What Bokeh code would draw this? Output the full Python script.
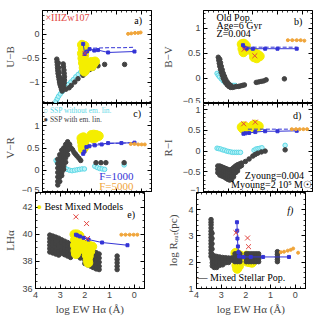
from bokeh.plotting import figure
from bokeh.models import Range1d, LinearAxis, Label, FixedTicker
from bokeh.layouts import column, row
from bokeh.embed import file_html
from bokeh.resources import INLINE

# ---------------- data (log EW Halpha on x) ----------------
X_MAJOR = [0, 1, 2, 3, 4]

# panel a : U-B
A_GRAY_X = [3.42,3.41,3.40,3.39,3.38,3.37,3.35,3.33,3.31,3.29,3.26,3.23,3.20,
            3.36,3.34,3.32,3.30,3.27,
            3.16,3.15,3.13,3.12,3.11,3.11,3.12,3.14,3.17,
            3.22,3.24,
            3.05,2.92,2.83,2.69,2.56,2.36,2.22,2.09,1.95,1.75,1.48,0.67]
A_GRAY_Y = [-0.52,-0.58,-0.64,-0.70,-0.76,-0.82,-0.88,-0.94,-1.00,-1.05,-1.10,-1.15,-1.19,
            -0.60,-0.70,-0.80,-0.90,-0.98,
            -0.62,-0.68,-0.75,-0.82,-0.89,-0.96,-1.02,-1.08,-1.13,
            -0.95,-1.02,
            -1.15,-1.12,-1.07,-1.00,-0.93,-0.86,-0.79,-0.74,-0.71,-0.66,-0.63,-0.63]
A_CYAN_X = [3.45,3.40,3.35,3.28,3.20,3.12,3.03,2.95,2.85,2.75,2.65,2.55,2.45,2.35,2.25,2.15,2.05,1.95,1.87]
A_CYAN_Y = [-1.40,-1.35,-1.30,-1.25,-1.20,-1.15,-1.10,-1.05,-1.00,-0.95,-0.89,-0.84,-0.79,-0.74,-0.69,-0.65,-0.62,-0.59,-0.57]
A_YEL_X = [2.40,2.30,2.37,2.28,2.40,2.31,2.38,2.30,2.36,2.28,2.33,2.26,2.30,2.02,1.94,1.87,2.00]
A_YEL_Y = [-0.22,-0.24,-0.30,-0.34,-0.40,-0.44,-0.50,-0.54,-0.60,-0.64,-0.70,-0.74,-0.78,-0.58,-0.62,-0.57,-0.67]
A_BLUE_X = [2.35,2.29,2.20,2.09,1.90,1.75,1.34,0.27]
A_BLUE_Y = [-0.20,-0.41,-0.36,-0.31,-0.34,-0.33,-0.38,-0.36]
A_BLUED_X = [1.95,1.30,0.70,0.27]
A_BLUED_Y = [-0.29,-0.28,-0.28,-0.27]
A_ORA_X = [0.53,0.40,0.25,0.12,0.02]
A_ORA_Y = [0.01,0.02,0.03,0.03,0.04]
A_RED_X = [2.28]
A_RED_Y = [-0.40]

# panel b : B-V
B_GRAY_X = [3.40,3.38,3.36,3.34,3.31,3.28,3.24,3.20,3.15,3.10,3.04,2.97,2.90,2.82,2.74,2.66,2.58,2.50,2.42,2.34,
            3.34,3.31,3.28,3.24,3.20,3.15,3.10,3.04,2.98,2.90,
            1.86,1.76,1.66,1.56,1.46,0.72]
B_GRAY_Y = [0.42,0.36,0.30,0.24,0.18,0.12,0.06,0.00,-0.05,-0.09,-0.13,-0.16,-0.18,-0.18,-0.17,-0.16,-0.16,-0.15,-0.14,-0.13,
            0.38,0.31,0.24,0.17,0.10,0.04,-0.02,-0.07,-0.11,-0.14,
            -0.08,-0.07,-0.06,-0.05,-0.03,-0.01]
B_CYAN_X = [3.45,3.40,3.35,3.28,3.20,3.12,3.04,2.96,2.88,2.80,2.72]
B_CYAN_Y = [0.10,0.06,0.03,-0.01,-0.05,-0.08,-0.11,-0.13,-0.14,-0.14,-0.14]
B_YEL_X = [2.45,2.36,2.28,2.42,2.32,2.38,2.00,1.90,1.80,1.95,1.84,1.72]
B_YEL_Y = [0.68,0.69,0.65,0.59,0.57,0.52,0.52,0.50,0.47,0.42,0.40,0.44]
B_BLUE_X = [2.40,2.33,2.25,2.00,1.50,1.00,0.22]
B_BLUE_Y = [0.66,0.61,0.59,0.59,0.59,0.59,0.59]
B_BLUED_X = [2.25,1.60,0.90,0.22]
B_BLUED_Y = [0.62,0.62,0.62,0.62]
B_RED_X = [2.35,1.92]
B_RED_Y = [0.58,0.45]
B_ORA_X = [0.58,0.40,0.22,0.06,-0.09]
B_ORA_Y = [0.76,0.76,0.76,0.76,0.75]

# panel c : V-R
C_GRAY_X = [3.38,3.38,3.38,3.38,3.38,3.38,3.38,
            3.30,3.30,3.30,3.30,3.30,3.30,3.30,
            3.22,3.22,3.22,3.22,3.22,3.22,3.22,
            3.14,3.14,3.14,3.14,3.14,3.14,
            3.06,3.06,3.06,3.06,3.06,
            2.98,2.98,2.98,2.98,
            2.90,2.84,2.78,2.72,2.66,2.60,2.52,2.45,
            1.83,1.63,1.43,0.69]
C_GRAY_Y = [0.25,0.15,0.05,-0.05,-0.15,-0.25,-0.33,
            0.35,0.25,0.15,0.05,-0.05,-0.15,-0.25,
            0.45,0.35,0.25,0.15,0.05,-0.05,-0.12,
            0.50,0.40,0.30,0.20,0.10,0.02,
            0.58,0.48,0.38,0.28,0.18,
            0.64,0.55,0.45,0.35,
            0.58,0.50,0.46,0.40,0.36,0.32,0.27,0.22,
            0.17,0.17,0.17,0.17]
C_CYAN_X = [3.45,3.40,3.30,3.20,3.10,3.00,2.90,2.80,2.70,2.60,2.50,2.40,2.30,1.88,1.78,1.68,1.58,1.48,0.69]
C_CYAN_Y = [0.22,0.17,0.12,0.08,0.05,0.02,0.00,-0.01,0.00,0.01,0.02,0.03,0.03,0.09,0.06,0.04,0.03,0.02,0.12]
C_YEL_X = [2.42,2.34,2.26,2.40,2.30,2.38,2.30,2.36,2.02,1.92,1.82,1.72,1.96,1.86]
C_YEL_Y = [0.72,0.74,0.70,0.64,0.62,0.55,0.52,0.47,0.79,0.80,0.79,0.77,0.72,0.73]
C_BLUE_X = [2.35,2.30,2.22,2.10,1.88,1.60,1.34,0.80,0.27]
C_BLUE_Y = [0.37,0.42,0.52,0.54,0.56,0.58,0.61,0.61,0.62]
C_BLUED_X = [2.00,1.40,0.80,0.27]
C_BLUED_Y = [0.59,0.60,0.61,0.62]
C_ORA_X = [0.42,0.27,0.12,-0.02,-0.15]
C_ORA_Y = [0.59,0.59,0.58,0.58,0.58]

# panel d : R-I
D_GRAY_X = [3.42,3.42,3.42,
            3.34,3.34,3.34,3.34,
            3.26,3.26,3.26,3.26,
            3.18,3.18,3.18,3.18,
            3.10,3.10,3.10,3.10,
            3.02,3.02,3.02,3.02,
            2.94,2.94,2.94,2.94,
            2.86,2.86,2.86,2.86,
            2.78,2.78,2.78,2.78,
            2.70,2.70,2.70,
            2.62,2.62,2.62,
            2.54,2.54,
            2.46,2.46,
            2.30,2.15,2.00,1.90,1.80,1.65,1.50,0.69]
D_GRAY_Y = [-0.36,-0.44,-0.52,
            -0.36,-0.44,-0.52,-0.58,
            -0.38,-0.46,-0.54,-0.60,
            -0.40,-0.48,-0.56,-0.62,
            -0.42,-0.50,-0.58,-0.65,
            -0.44,-0.52,-0.60,-0.68,
            -0.46,-0.54,-0.62,-0.70,
            -0.44,-0.52,-0.60,-0.68,
            -0.40,-0.48,-0.56,-0.62,
            -0.36,-0.44,-0.52,
            -0.33,-0.41,-0.48,
            -0.31,-0.38,
            -0.29,-0.35,
            -0.25,-0.19,-0.12,-0.08,-0.05,-0.02,0.00,0.03]
D_CYAN_X = [3.45,3.38,3.30,3.22,3.14,3.06,2.98,2.90,2.82,2.74,2.66,2.58,2.50,1.95,1.87,1.79,1.71,1.63,0.69]
D_CYAN_Y = [0.07,0.06,0.05,0.03,0.02,0.00,-0.01,-0.02,-0.03,-0.03,-0.03,-0.03,-0.03,0.02,0.05,0.06,0.07,0.08,0.14]
D_YEL_X = [2.45,2.37,2.28,2.40,2.30,2.00,1.92,1.84,1.76,1.95,1.85]
D_YEL_Y = [0.58,0.60,0.58,0.54,0.53,0.62,0.64,0.62,0.60,0.57,0.57]
D_RED_X = [2.37,1.90]
D_RED_Y = [0.66,0.70]
D_BLUE_X = [2.38,2.30,2.15,1.90,1.50,1.00,0.22]
D_BLUE_Y = [0.42,0.43,0.44,0.46,0.48,0.48,0.49]
D_BLUED_X = [2.20,1.50,0.80,0.22]
D_BLUED_Y = [0.53,0.53,0.53,0.53]
D_ORA_X = [0.42,0.25,0.10,-0.05,-0.20]
D_ORA_Y = [0.53,0.53,0.53,0.53,0.53]

# panel e : L_Halpha
E_GRAY_X = [3.42,3.42,3.42,3.42,3.42,3.42,
            3.30,3.30,3.30,3.30,3.30,3.30,
            3.18,3.18,3.18,3.18,3.18,3.18,
            3.06,3.06,3.06,3.06,3.06,3.06,
            2.94,2.94,2.94,2.94,2.94,
            2.82,2.82,2.82,2.82,2.82,
            2.70,2.70,2.70,2.70,2.70,
            2.58,2.58,2.58,2.58,2.58,
            2.30,2.30,2.30,
            2.18,2.18,2.18,2.18,
            2.00,2.00,2.00,2.00,2.00,2.00,
            1.88,1.88,1.88,1.88,1.88,1.88,
            1.76,1.76,1.76,1.76,1.76,1.76,
            1.66,1.66,1.66,1.66,1.66,
            1.54,1.54,1.54,1.54,1.54,
            1.42,1.42,1.42,1.42,1.42,
            0.69,0.69,0.69,0.69,0.69]
E_GRAY_Y = [39.95,39.70,39.45,39.20,38.95,38.70,
            39.88,39.63,39.38,39.13,38.88,38.63,
            39.80,39.55,39.30,39.05,38.80,38.55,
            39.72,39.47,39.22,38.97,38.72,38.47,
            39.60,39.35,39.10,38.85,38.60,
            39.50,39.25,39.00,38.75,38.50,
            39.40,39.15,38.90,38.65,38.40,
            39.30,39.05,38.80,38.55,38.30,
            38.90,38.65,38.40,
            39.00,38.75,38.50,38.25,
            39.10,38.85,38.60,38.35,38.10,37.85,
            39.00,38.75,38.50,38.25,38.00,37.75,
            38.90,38.65,38.40,38.15,37.90,37.65,
            38.75,38.45,38.15,37.85,37.55,
            38.65,38.35,38.05,37.75,37.45,
            38.55,38.25,37.95,37.65,37.40,
            38.40,38.15,37.90,37.65,37.40]
E_YEL_X = [2.42,2.32,2.22,2.40,2.30,2.20,2.40,2.30,2.20,2.38,2.28,2.36,
           2.00,1.90,1.80,1.70,1.98,1.88,1.78,1.92,1.84,1.88,1.86]
E_YEL_Y = [40.00,40.00,39.90,39.60,39.60,39.50,39.20,39.20,39.10,38.80,38.80,38.55,
           39.20,39.20,39.15,39.10,38.85,38.80,38.75,38.45,38.40,38.10,37.90]
E_RED_X = [2.36,1.93,1.89]
E_RED_Y = [41.30,40.80,39.70]
E_BLUE_X = [2.36,2.30,2.20,2.05,1.85,1.30,0.27]
E_BLUE_Y = [39.98,39.92,39.85,39.75,39.62,39.40,39.20]
E_ORA_X = [0.52,0.35,0.18,0.02,-0.13]
E_ORA_Y = [39.98,39.98,39.98,39.98,39.98]

# panel f : log R_out
F_GRAY_X = [3.41,3.41,3.41,3.41,3.41,3.41,3.41,3.41,3.41,3.41,3.41,3.41,3.41,
            3.37,3.37,3.37,3.37,3.37,
            3.36,3.36,3.36,3.28,3.28,3.28,3.28,3.28,3.18,3.18,3.18,3.18,3.18,
            3.06,3.06,3.06,3.06,2.94,2.94,2.94,2.94,2.82,2.82,2.82,2.70,2.70,2.70,
            2.58,2.58,2.50,2.50,
            2.44,2.44,2.44,2.44,2.34,2.34,2.34,2.34,2.24,2.24,2.24,2.24,
            1.98,1.98,1.98,1.98,1.88,1.88,1.88,1.88,1.78,1.78,1.78,1.78,
            1.68,1.68,1.68,1.68,1.58,1.58,1.58,1.58,1.48,1.48,1.48,1.48,
            0.72,0.72,0.72,0.72,0.72]
F_GRAY_Y = [3.62,3.52,3.42,3.30,3.18,3.06,2.94,2.82,2.70,2.58,2.46,2.34,2.22,
            3.10,2.90,2.70,2.50,2.30,
            2.10,1.98,1.86,2.24,2.12,2.00,1.88,1.80,2.22,2.10,1.98,1.86,1.80,
            2.20,2.09,1.98,1.88,2.18,2.08,1.98,1.90,2.17,2.07,1.98,2.16,2.07,1.99,
            2.16,2.08,2.16,2.08,
            2.32,2.22,2.12,2.02,2.32,2.22,2.12,2.02,2.32,2.22,2.12,2.02,
            2.32,2.22,2.12,2.02,2.32,2.22,2.12,2.02,2.32,2.22,2.12,2.02,
            2.32,2.22,2.12,2.02,2.32,2.22,2.12,2.02,2.32,2.22,2.12,2.02,
            2.40,2.30,2.20,2.10,2.02]
F_YEL_X = [2.42,2.32,2.22,2.40,2.30,2.20,2.38,2.28,2.35,1.98,1.88,1.78,1.95,1.85,1.75]
F_YEL_Y = [2.35,2.30,2.25,2.10,2.05,2.05,1.88,1.85,1.75,2.25,2.20,2.15,2.02,2.00,1.98]
F_RED_X = [2.40,1.93,1.89]
F_RED_Y = [3.12,2.92,2.59]
F_BLUE_X = [2.36,2.35,2.34,2.32,2.30,2.27,2.10,1.80,1.30,0.25]
F_BLUE_Y = [3.52,3.20,2.90,2.60,2.38,2.22,2.20,2.20,2.20,2.20]
F_ORA_X = [0.58,0.45,0.30,0.18,0.08]
F_ORA_Y = [2.38,2.40,2.44,2.47,2.52]
F_ORA2_X = [-0.12]
F_ORA2_Y = [2.36]

# ---------------- style ----------------
GRAY = "#434343"
CYAN = "#5ED8E6"
CYAN_FILL = "#B8F3F8"
YEL = "#F4EE00"
BLUE = "#3434D6"
ORA = "#F0A53A"
RED = "#E2453F"
SERIF = "Liberation Serif"
SANS = "Liberation Sans"


def tick_list(lo, hi, step):
    n = int(round((hi - lo) / step))
    return [round(lo + i * step, 4) for i in range(n + 1)]


MINUS = {-0.5: "\u22120.5", -1: "\u22121", -1.0: "\u22121"}


def style_axis(ax, show):
    ax.axis_line_color = None
    ax.major_tick_in = 4
    ax.major_tick_out = 0
    ax.minor_tick_in = 2
    ax.minor_tick_out = 0
    ax.major_tick_line_color = "black"
    ax.minor_tick_line_color = "black"
    ax.major_tick_line_width = 1
    ax.minor_tick_line_width = 0.8
    if show:
        ax.major_label_text_font = SANS
        ax.major_label_text_font_size = "9px"
        ax.major_label_standoff = 3
        ax.major_label_overrides = MINUS
    else:
        ax.major_label_text_font_size = "0px"
        ax.major_label_standoff = 0
    ax.axis_label_text_font = SERIF
    ax.axis_label_text_font_size = "11px"
    ax.axis_label_text_font_style = "normal"


def panel(yr, ymaj, ymin, fh, bl, br, bt, bb, xlabels, ylabel, ylab_standoff):
    p = figure(frame_width=109, frame_height=fh, x_range=Range1d(4.0, -0.42),
               y_range=Range1d(*yr), output_backend="svg", toolbar_location=None,
               x_axis_type=None, y_axis_type=None,
               min_border_left=bl, min_border_right=br, min_border_top=bt, min_border_bottom=bb)
    p.outline_line_color = "black"
    p.outline_line_width = 1
    p.background_fill_color = "white"
    p.border_fill_color = "white"
    xt = FixedTicker(ticks=X_MAJOR, minor_ticks=tick_list(-0.4, 4.0, 0.2))
    yt = FixedTicker(ticks=ymaj, minor_ticks=ymin)
    for loc, tk, show in (("below", xt, xlabels), ("above", xt, False),
                          ("left", yt, True), ("right", yt, False)):
        ax = LinearAxis(ticker=tk)
        style_axis(ax, show)
        if loc == "below" and xlabels:
            ax.axis_label = "log EW H\u03b1 (\u00c5)"
            ax.axis_label_standoff = 2
        if loc == "left" and ylabel:
            ax.axis_label = ylabel
            ax.axis_label_standoff = ylab_standoff
        p.add_layout(ax, loc)
    return p


def text(p, x, y, s, color="black", size="10px", align="left", font=SERIF, style="normal", angle=0.0):
    p.add_layout(Label(x=x, y=y, text=s, text_color=color, text_font_size=size,
                       text_align=align, text_baseline="middle", text_font=font,
                       text_font_style=style, angle=angle))


def blue(p, x, y, xd, yd):
    p.line(x, y, line_color=BLUE, line_width=1)
    p.scatter(x, y, marker="square", size=3, color=BLUE)
    if xd is not None:
        p.line(xd, yd, line_color=BLUE, line_width=1, line_dash="4 2")


def orange(p, x, y):
    p.line(x, y, line_color=ORA, line_width=1, line_dash="3 2")
    p.scatter(x, y, marker="circle", size=3, color=ORA)


def red(p, x, y):
    p.scatter(x, y, marker="x", size=7, line_color=RED, line_width=1)


def cyan(p, x, y):
    return p.scatter(x, y, marker="circle", size=4.5, fill_color=CYAN_FILL, line_color=CYAN, line_width=1)


def gray(p, x, y):
    return p.scatter(x, y, marker="circle", size=4.5, color=GRAY)


def yellow(p, x, y):
    return p.scatter(x, y, marker="circle", size=9, color=YEL)


LB, LR, RB, RR = 35, 2, 50, 8

# ---- a
pa = panel((-1.45, 0.5), [-1, -0.5, 0], tick_list(-1.4, 0.5, 0.1), 93, LB, LR, 10, 0, False, "U\u2212B", 3)
cyan(pa, A_CYAN_X, A_CYAN_Y)
gray(pa, A_GRAY_X, A_GRAY_Y)
yellow(pa, A_YEL_X, A_YEL_Y)
blue(pa, A_BLUE_X, A_BLUE_Y, A_BLUED_X, A_BLUED_Y)
orange(pa, A_ORA_X, A_ORA_Y)
red(pa, A_RED_X, A_RED_Y)
text(pa, 3.88, 0.35, "\u00d7IIIZw107", color=RED)
text(pa, 0.12, 0.29, "a)", align="center")

# ---- b
pb = panel((-0.5, 1.35), [-0.5, 0, 0.5, 1], tick_list(-0.5, 1.3, 0.1), 93, RB, RR, 10, 0, False, "B\u2212V", 6)
cyan(pb, B_CYAN_X, B_CYAN_Y)
gray(pb, B_GRAY_X, B_GRAY_Y)
yellow(pb, B_YEL_X, B_YEL_Y)
blue(pb, B_BLUE_X, B_BLUE_Y, B_BLUED_X, B_BLUED_Y)
orange(pb, B_ORA_X, B_ORA_Y)
red(pb, B_RED_X, B_RED_Y)
text(pb, 3.47, 1.21, "Old Pop.")
text(pb, 3.47, 1.06, "Age=6 Gyr")
text(pb, 3.47, 0.90, "Z=0.004")
text(pb, 0.16, 1.13, "b)", align="center")

# ---- c
pc = panel((-0.5, 1.5), [-0.5, 0, 0.5, 1], tick_list(-0.5, 1.5, 0.1), 89, LB, LR, 0, 0, False, "V\u2212R", 3)
cyan(pc, C_CYAN_X, C_CYAN_Y)
gray(pc, C_GRAY_X, C_GRAY_Y)
yellow(pc, C_YEL_X, C_YEL_Y)
blue(pc, C_BLUE_X, C_BLUE_Y, C_BLUED_X, C_BLUED_Y)
orange(pc, C_ORA_X, C_ORA_Y)
text(pc, 0.16, 1.275, "c)", align="center")
text(pc, 3.96, 1.34, "\u25cb SSP without em. lin.", color=CYAN, size="7.5px")
text(pc, 3.96, 1.15, "\u25cf SSP with em. lin.", color=GRAY, size="7.5px")
text(pc, 1.70, -0.12, "F=1000", color=BLUE, size="11px")
text(pc, 1.70, -0.35, "F=5000", color=ORA, size="11px")

# ---- d
pd = panel((-1.0, 1.15), [-1, -0.5, 0, 0.5, 1], tick_list(-1.0, 1.1, 0.1), 89, RB, RR, 0, 0, False, "R\u2212I", 6)
cyan(pd, D_CYAN_X, D_CYAN_Y)
gray(pd, D_GRAY_X, D_GRAY_Y)
yellow(pd, D_YEL_X, D_YEL_Y)
blue(pd, D_BLUE_X, D_BLUE_Y, D_BLUED_X, D_BLUED_Y)
orange(pd, D_ORA_X, D_ORA_Y)
red(pd, D_RED_X, D_RED_Y)
text(pd, 0.20, 0.86, "d)", align="center")
text(pd, -0.08, -0.59, "Zyoung=0.004", align="right")
text(pd, -0.40, -0.81, "Myoung=2 10\u2075 M\u2609", align="right")

# ---- e
pe = panel((36.0, 43.1), [36, 38, 40, 42], tick_list(36, 43, 0.5), 96, LB, LR, 0, 28, True, "LH\u03b1", 3)
gray(pe, E_GRAY_X, E_GRAY_Y)
yellow(pe, E_YEL_X, E_YEL_Y)
blue(pe, E_BLUE_X, E_BLUE_Y, None, None)
orange(pe, E_ORA_X, E_ORA_Y)
red(pe, E_RED_X, E_RED_Y)
text(pe, 0.12, 41.47, "e)", align="center")
text(pe, 3.84, 42.06, "\u25cf", color=YEL, size="9px", align="center")
text(pe, 3.64, 42.06, "Best Mixed Models")

# ---- f
pf = panel((1.0, 4.65), [1, 2, 3, 4], tick_list(1.0, 4.6, 0.2), 96, RB, RR, 0, 28, True,
           "log R\u2092\u1d64\u209c(pc)", 6)
yellow(pf, F_YEL_X, F_YEL_Y)
gray(pf, F_GRAY_X, F_GRAY_Y)
blue(pf, F_BLUE_X, F_BLUE_Y, None, None)
orange(pf, F_ORA_X, F_ORA_Y)
pf.scatter(F_ORA2_X, F_ORA2_Y, marker="circle", size=3, color=ORA)
red(pf, F_RED_X, F_RED_Y)
text(pf, 0.20, 3.97, "f)", align="center", style="italic")
text(pf, 3.96, 1.42, "\u2014 Mixed Stellar Pop.")

layout = column(row(pa, pb), row(pc, pd), row(pe, pf))
open("out.html", "w").write(file_html(layout, INLINE))
